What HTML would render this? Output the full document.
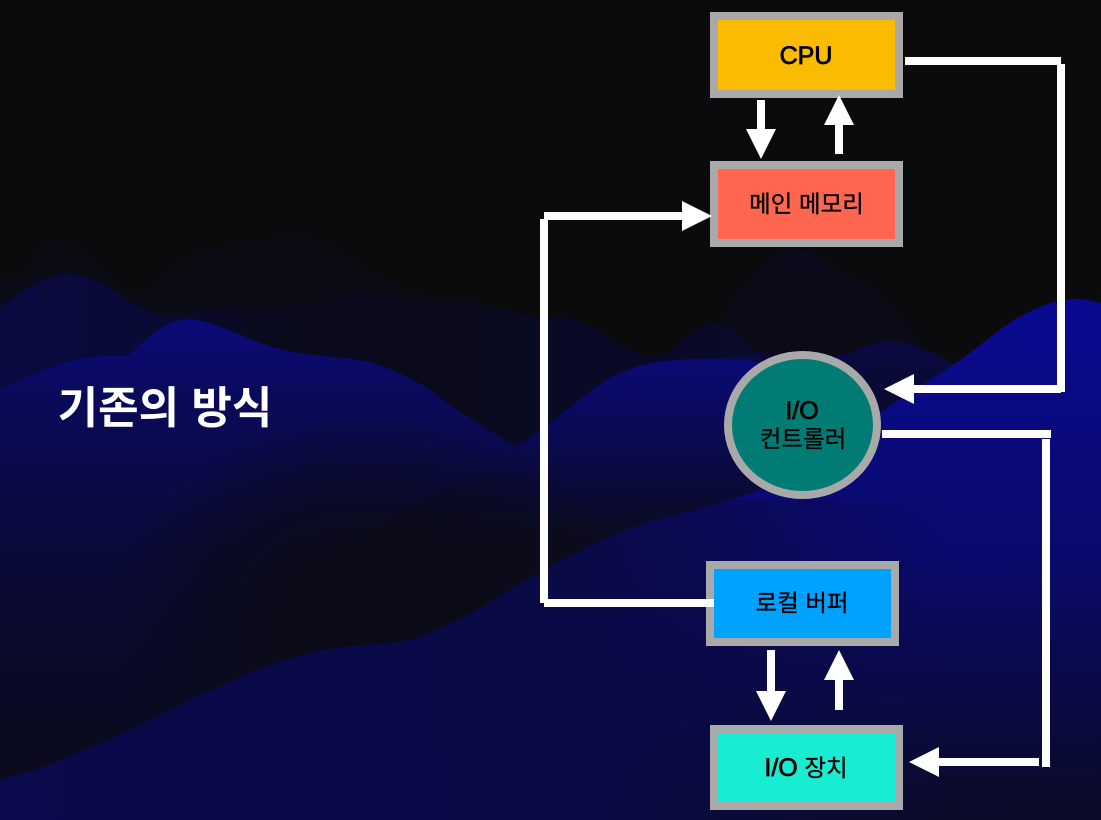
<!DOCTYPE html>
<html lang="ko"><head><meta charset="utf-8"><style>
html,body{margin:0;padding:0;background:#0b0b0e}
svg{display:block}
text{font-family:"Liberation Sans","Noto Sans CJK KR",sans-serif;text-anchor:middle;fill:#000}
.e{font-size:25px;stroke:#000;stroke-width:.8}
.k{font-family:"Noto Sans CJK KR","Liberation Sans",sans-serif;font-size:23.5px;stroke:#000;stroke-width:.35}
</style></head><body>
<svg width="1101" height="820" viewBox="0 0 1101 820" xmlns="http://www.w3.org/2000/svg">
<defs>
<linearGradient id="gA" gradientUnits="userSpaceOnUse" x1="0" y1="235" x2="0" y2="330"><stop offset="0" stop-color="#0b0b13"/><stop offset="1" stop-color="#0b0b17"/></linearGradient>
<linearGradient id="gA2" gradientUnits="userSpaceOnUse" x1="0" y1="248" x2="0" y2="360"><stop offset="0" stop-color="#0b0b1c"/><stop offset="1" stop-color="#0b0b16"/></linearGradient>
<linearGradient id="gB" gradientUnits="userSpaceOnUse" x1="0" y1="0" x2="790" y2="0">
<stop offset="0" stop-color="#0a0a40"/><stop offset=".16" stop-color="#0a0a38"/><stop offset=".32" stop-color="#0a0a1e"/><stop offset=".57" stop-color="#0a0a1a"/><stop offset=".72" stop-color="#0a0a26"/><stop offset="1" stop-color="#0a0a2a"/></linearGradient>
<linearGradient id="gC" gradientUnits="userSpaceOnUse" x1="0" y1="317" x2="0" y2="800">
<stop offset="0" stop-color="#0a0a7a"/><stop offset=".18" stop-color="#0a0a58"/><stop offset=".5" stop-color="#0a0a38"/><stop offset=".8" stop-color="#0a0a24"/><stop offset="1" stop-color="#0b0b18"/></linearGradient>
<radialGradient id="gDark" gradientUnits="userSpaceOnUse" cx="0" cy="0" r="1" gradientTransform="translate(370 620) scale(260 210)">
<stop offset="0" stop-color="#0b0b17"/><stop offset=".35" stop-color="#0b0b17" stop-opacity=".9"/><stop offset=".7" stop-color="#0b0b17" stop-opacity=".45"/><stop offset="1" stop-color="#0b0b17" stop-opacity="0"/></radialGradient>
<linearGradient id="gE" gradientUnits="userSpaceOnUse" x1="0" y1="340" x2="0" y2="430"><stop offset="0" stop-color="#0a0a42"/><stop offset="1" stop-color="#0a0a2a"/></linearGradient>
<linearGradient id="gD" gradientUnits="userSpaceOnUse" x1="0" y1="358" x2="0" y2="540"><stop offset="0" stop-color="#0a0a76"/><stop offset=".5" stop-color="#0a0a4c"/><stop offset="1" stop-color="#0b0b1e"/></linearGradient>
<linearGradient id="gF" gradientUnits="userSpaceOnUse" x1="0" y1="297" x2="0" y2="820"><stop offset="0" stop-color="#0a0a92"/><stop offset=".5" stop-color="#0a0a6c"/><stop offset=".78" stop-color="#0a0a42"/><stop offset="1" stop-color="#0b0b28"/></linearGradient>
<linearGradient id="gL" gradientUnits="userSpaceOnUse" x1="0" y1="0" x2="950" y2="0"><stop offset="0" stop-color="#0a0a4c"/><stop offset=".6" stop-color="#0a0a46"/><stop offset="1" stop-color="#0a0a46" stop-opacity="0"/></linearGradient>
<clipPath id="cF"><path d="M0,780 L23,773 Q46,767 92,747 Q138,727 161,715 Q184,703 207,692 Q230,682 252,672 Q275,662 298,656 Q321,650 344,647 Q367,645 390,643 Q413,642 446,626 Q480,610 510,590 Q540,570 590,546 Q640,522 670,516 Q700,510 745,495 Q790,480 835,446 L950,446 L1101,820 L0,820Z"/></clipPath>
</defs>
<rect width="1101" height="820" fill="#0b0b0e"/>
<path fill="url(#gA)" d="M0,277 L21,277 Q35,247 47,243 Q60,240 74,245 Q88,250 96,261 Q105,273 122,285 Q140,297 157,280 Q175,263 192,255 Q210,248 227,245 Q245,242 270,238 Q295,235 314,239 Q333,243 350,256 Q368,270 394,283 Q421,297 470,305 L470,400 L0,400Z"/>
<path fill="url(#gA2)" d="M690,360 L700,345 Q725,310 751,279 Q777,248 793,248 Q809,248 818,256 Q828,265 844,272 Q860,280 878,295 Q896,310 908,325 L930,360Z"/>
<path fill="url(#gB)" d="M0,307 L17,294 Q35,282 51,276 Q67,270 86,277 Q105,285 122,296 Q140,308 152,312 Q165,317 187,313 Q210,310 227,308 Q245,307 277,307 Q309,308 330,300 Q351,293 368,294 Q386,295 407,298 Q428,302 447,300 Q467,298 499,307 Q531,317 550,316 Q569,316 584,323 Q599,330 618,343 Q638,356 652,356 Q666,357 680,343 Q694,330 706,325 Q718,321 729,327 Q741,333 747,341 Q753,350 771,355 L790,360 L790,600 L0,600Z"/>
<path fill="url(#gC)" d="M0,389 Q35,373 58,365 Q81,357 104,356 L128,356 Q151,333 166,325 Q182,318 196,320 Q210,322 236,333 Q263,345 280,349 Q298,354 324,356 Q351,358 368,362 Q386,367 403,375 Q421,383 438,396 Q456,410 486,428 Q516,447 560,470 L560,800 L0,800Z"/>
<path fill="url(#gE)" d="M700,362 Q737,352 760,355 Q781,358 808,358 Q836,358 856,350 Q876,342 888,341 Q900,341 913,345 Q927,350 941,357 L955,365 L955,520 L700,520Z"/>
<path fill="url(#gD)" d="M300,590 L348,551 Q396,513 438,491 Q480,470 513,448 Q547,427 573,405 Q599,383 618,374 Q638,365 658,362 Q678,360 694,359 Q710,359 735,359 Q760,360 785,372 Q810,385 855,412 Q900,440 930,455 L960,470 L960,700 L300,700Z"/>
<rect x="110" y="410" width="520" height="410" fill="url(#gDark)"/>
<path fill="url(#gF)" d="M0,780 L23,773 Q46,767 92,747 Q138,727 161,715 Q184,703 207,692 Q230,682 252,672 Q275,662 298,656 Q321,650 344,647 Q367,645 390,643 Q413,642 446,626 Q480,610 510,590 Q540,570 590,546 Q640,522 670,516 Q700,510 745,495 Q790,480 835,446 Q880,412 917,388 Q955,365 975,349 Q995,333 1014,320 Q1034,308 1054,302 Q1074,297 1087,300 L1101,303 L1101,820 L0,820Z"/>
<rect x="0" y="500" width="950" height="320" fill="url(#gL)" clip-path="url(#cF)"/>

<text x="165" y="423" style="font-family:'Noto Sans CJK KR','Liberation Sans',sans-serif;fill:#fff;font-size:44px;font-weight:700">기존의 방식</text>

<rect x="714" y="16" width="185" height="78" fill="#fbbb00" stroke="#a9a9a9" stroke-width="8"/>
<rect x="714" y="165" width="185" height="78" fill="#ff6650" stroke="#a9a9a9" stroke-width="8"/>
<rect x="710" y="565" width="185" height="77" fill="#00a2ff" stroke="#a9a9a9" stroke-width="8"/>
<rect x="714" y="729" width="185" height="77" fill="#18ecd2" stroke="#a9a9a9" stroke-width="8"/>
<ellipse cx="802.500" cy="425" rx="74.500" ry="70" fill="#007c74" stroke="#a9a9a9" stroke-width="8"/>

<text class="e" x="806" y="64">CPU</text>
<text class="k" x="806.500" y="212">메인 메모리</text>
<text class="e" x="802" y="419">I/O</text>
<text class="k" x="803" y="447">컨트롤러</text>
<text class="k" x="802" y="611">로컬 버퍼</text>
<text class="k" x="806" y="776"><tspan style="font-family:'Liberation Sans';font-size:25px;stroke-width:.8">I/O</tspan> 장치</text>

<g fill="#fff">
<rect x="905" y="57" width="156" height="8"/>
<rect x="1057" y="64" width="8" height="328"/>
<rect x="912" y="385" width="149" height="8"/>
<path d="M884,389 L914,374 L914,404Z"/>
<rect x="882" y="430" width="169" height="8"/>
<rect x="1042" y="439" width="8" height="328"/>
<rect x="937" y="758" width="102" height="8"/>
<path d="M909,762 L939,747 L939,777Z"/>
<rect x="544" y="599" width="170" height="8"/>
<rect x="540" y="219" width="8" height="384"/>
<rect x="544" y="212" width="140" height="8"/>
<path d="M712,216 L682,201 L682,231Z"/>
<rect x="757" y="100" width="8" height="31"/>
<path d="M761,159 L746,129 L776,129Z"/>
<rect x="835" y="123" width="8" height="31"/>
<path d="M839,95 L824,125 L854,125Z"/>
<rect x="767" y="650" width="8" height="43"/>
<path d="M771,721 L756,691 L786,691Z"/>
<rect x="835" y="678" width="8" height="32"/>
<path d="M839,650 L824,680 L854,680Z"/>
</g>
</svg>
</body></html>
